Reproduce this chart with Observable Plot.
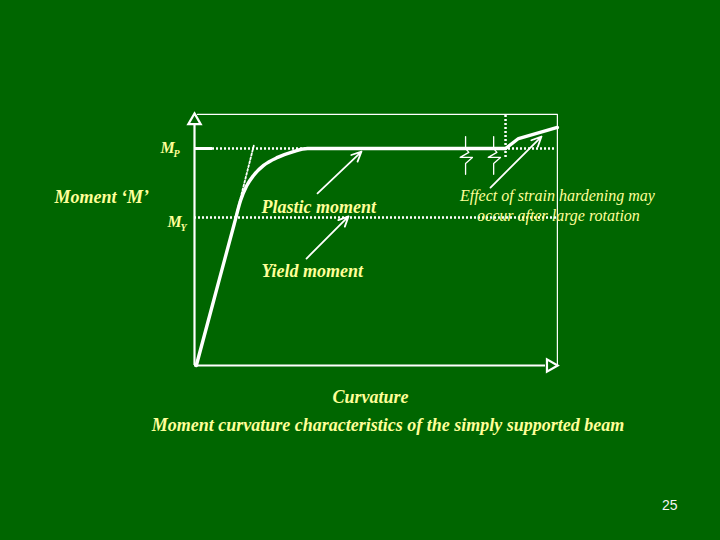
<!DOCTYPE html>
<html>
<head>
<meta charset="utf-8">
<script src="https://cdn.jsdelivr.net/npm/d3@7"></script>
<script src="https://cdn.jsdelivr.net/npm/@observablehq/plot@0.6"></script>
<style>
  html, body { margin: 0; padding: 0; background: #006600; }
  #chart { width: 720px; height: 540px; }
</style>
</head>
<body>
<div id="chart"></div>
<script>
// ---- data (curvature, moment normalised by Mp) ----
const curvature = [0.05, 0.55, 1.10, 1.28, 1.45, 1.64, 1.92, 2.31, 2.75, 3.14, 8.64, 9.0, 10.08];
const moment    = [0.00, 0.31, 0.650, 0.760, 0.828, 0.876, 0.922, 0.959, 0.986, 1.0, 1.0, 1.046, 1.097];
const MP = 1.0;
const MY = 0.682;
const curvMax = 10.08;       // right edge of frame
const momentTop = 1.157;     // top edge of frame
const elasticLine = [[1.17, 0.70], [1.65, 1.015]];
const hardeningStart = 8.64;
const breaks = [7.53, 8.31];

const levelLabels = [
  {name: "M", sub: "P", c: -0.944, m: 0.977, cs: -0.583, ms: 0.959},
  {name: "M", sub: "Y", c: -0.75,  m: 0.636, cs: -0.389, ms: 0.622}
];
const labels = [
  {t: "Moment \u2018M\u2019", c: -3.889, m: 0.747, anchor: "start", size: 18, w: "bold"},
  {t: "Plastic moment", c: 1.861, m: 0.705, anchor: "start", size: 18, w: "bold"},
  {t: "Yield moment", c: 1.861, m: 0.410, anchor: "start", size: 18, w: "bold"},
  {t: "Effect of strain hardening may", c: 10.08, m: 0.756, anchor: "middle", size: 16, w: "normal"},
  {t: "occur after large rotation", c: 10.11, m: 0.664, anchor: "middle", size: 16, w: "normal"},
  {t: "Curvature", c: 4.89, m: -0.175, anchor: "middle", size: 18, w: "bold"},
  {t: "Moment curvature characteristics of the simply supported beam", c: 5.375, m: -0.300, anchor: "middle", size: 18, w: "bold"}
];
const pageNumber = {t: "25", c: 13.2, m: -0.664};
const arrows = [
  {c1: 3.417, m1: 0.793, c2: 4.639, m2: 0.986},
  {c1: 3.111, m1: 0.493, c2: 4.278, m2: 0.687},
  {c1: 8.222, m1: 0.820, c2: 9.639, m2: 1.055}
];

const curve = curvature.map((c, i) => ({c, m: moment[i]}));
const curveMain = curve.filter(d => d.c <= hardeningStart);
const curveHard = curve.filter(d => d.c >= hardeningStart);
const serif = "'Liberation Serif', 'Times New Roman', serif";
const white = "#ffffff";
const yellow = "#ffff99";
const green = "#006600";

// break symbols (zig-zag) built around each break position
const zz = [];
breaks.forEach((b, k) => {
  const pts = [[b, 1.055], [b, 1.0], [b + 0.09, 0.982], [b - 0.15, 0.959], [b + 0.19, 0.959], [b, 0.931], [b, 0.881]];
  pts.forEach(([c, m]) => zz.push({c, m, k}));
});

const chart = Plot.plot({
  width: 720,
  height: 540,
  margin: 0,
  style: {background: "transparent", overflow: "visible"},
  x: {domain: [0, 10], range: [194, 554], axis: null},
  y: {domain: [0, 1], range: [365, 148], axis: null},
  marks: [
    // frame
    Plot.line([[0.083, momentTop], [curvMax, momentTop], [curvMax, 0]], {stroke: white, strokeWidth: 1.2}),
    // Mp level: solid stub then dotted
    Plot.ruleY([MP], {x1: 0, x2: 0.5, stroke: white, strokeWidth: 3}),
    Plot.ruleY([MP], {x1: 0.5, x2: 10.03, stroke: white, strokeWidth: 2.5, strokeDasharray: "2,2"}),
    // My level dotted
    Plot.ruleY([MY], {x1: 0, x2: curvMax, stroke: white, strokeWidth: 2.5, strokeDasharray: "2,2"}),
    // vertical dotted at start of strain hardening
    Plot.ruleX([hardeningStart], {y1: 0.959, y2: momentTop, stroke: white, strokeWidth: 2.5, strokeDasharray: "2,2"}),
    // elastic extension dotted
    Plot.line(elasticLine, {stroke: white, strokeWidth: 1.8, strokeDasharray: "2,2"}),
    // break marks
    Plot.line(zz, {x: "c", y: "m", z: "k", stroke: white, strokeWidth: 1.3}),
    // moment-curvature curve
    Plot.line(curveMain, {x: "c", y: "m", curve: "monotone-x", stroke: white, strokeWidth: 3.4}),
    Plot.line(curveHard, {x: "c", y: "m", stroke: white, strokeWidth: 3.4, strokeLinejoin: "round"}),
    // axes
    Plot.ruleX([0], {y1: 0, y2: 1.111, stroke: white, strokeWidth: 2.2}),
    Plot.ruleY([0], {x1: 0, x2: 9.75, stroke: white, strokeWidth: 2.2}),
    Plot.dot([[0, 1.129]], {symbol: "triangle", r: 4.6, fill: green, stroke: white, strokeWidth: 2.2}),
    Plot.dot([[9.89, 0]], {symbol: "triangle", r: 4.6, rotate: 90, fill: green, stroke: white, strokeWidth: 2.2}),
    // annotation arrows
    Plot.arrow(arrows, {x1: "c1", y1: "m1", x2: "c2", y2: "m2", stroke: white, strokeWidth: 1.8, headLength: 9, headAngle: 50}),
    // level labels M_P, M_Y
    Plot.text(levelLabels, {x: "c", y: "m", text: "name", textAnchor: "start", lineAnchor: "bottom", fill: yellow, fontFamily: serif, fontStyle: "italic", fontWeight: "bold", fontSize: 16}),
    Plot.text(levelLabels, {x: "cs", y: "ms", text: "sub", textAnchor: "start", lineAnchor: "bottom", fill: yellow, fontFamily: serif, fontStyle: "italic", fontWeight: "bold", fontSize: 10}),
    // text labels
    ...labels.map(l => Plot.text([l], {x: "c", y: "m", text: "t", textAnchor: l.anchor, lineAnchor: "bottom", fill: yellow, fontFamily: serif, fontStyle: "italic", fontWeight: l.w, fontSize: l.size})),
    Plot.text([pageNumber], {x: "c", y: "m", text: "t", textAnchor: "middle", lineAnchor: "bottom", fill: "#f4f4f4", fontFamily: "'Liberation Sans', Arial, sans-serif", fontSize: 14})
  ]
});
document.getElementById("chart").appendChild(chart);
</script>
</body>
</html>
